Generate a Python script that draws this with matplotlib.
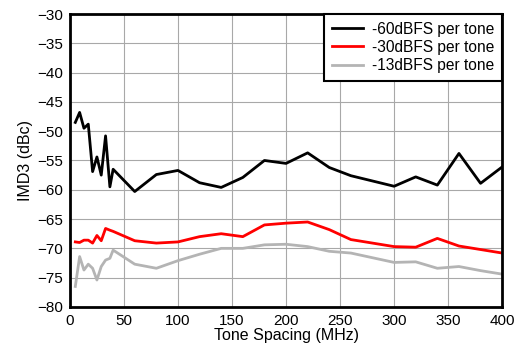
import matplotlib.pyplot as plt

plt.rcParams['font.family'] = ['Liberation Sans', 'DejaVu Sans']

spacing = [5, 9, 13, 17, 21, 25, 29, 33, 37, 40, 60, 80, 100, 120, 140, 160,
           180, 200, 220, 240, 260, 300, 320, 340, 360, 380, 400]
imd_60 = [-48.5, -46.8, -49.5, -48.8, -56.9, -54.4, -57.5, -50.8, -59.5, -56.5,
          -60.3, -57.4, -56.7, -58.8, -59.6, -57.9, -55.0, -55.5, -53.7, -56.2,
          -57.6, -59.4, -57.8, -59.2, -53.8, -58.9, -56.1]
imd_30 = [-68.9, -69.0, -68.6, -68.6, -69.1, -67.8, -68.7, -66.6, -66.9, -67.1,
          -68.7, -69.1, -68.9, -68.0, -67.5, -68.0, -66.0, -65.7, -65.5, -66.8,
          -68.5, -69.7, -69.8, -68.3, -69.6, -70.2, -70.8]
imd_13 = [-76.5, -71.4, -73.7, -72.7, -73.4, -75.4, -73.1, -72.0, -71.7, -70.3,
          -72.7, -73.4, -72.1, -71.0, -70.0, -70.0, -69.4, -69.3, -69.7, -70.5,
          -70.8, -72.4, -72.3, -73.4, -73.1, -73.8, -74.4]
labels = ['-60dBFS per tone', '-30dBFS per tone', '-13dBFS per tone']
colors = ['black', '#ff0000', '#b4b4b4']

fig = plt.figure(figsize=(5.14, 3.5), dpi=100)
ax = fig.add_axes([0.136, 0.123, 0.841, 0.837])

for y, lab, c in zip([imd_60, imd_30, imd_13], labels, colors):
    ax.plot(spacing, y, color=c, lw=2, label=lab)

ax.set_xlim(0, 400)
ax.set_ylim(-80, -30)
ax.set_xticks(range(0, 401, 50))
ax.set_yticks(range(-80, -29, 5))
ax.grid(True, color='#a8a8a8', lw=0.8)
ax.set_axisbelow(True)
ax.tick_params(length=0, labelsize=11, pad=5)
for s in ax.spines.values():
    s.set_linewidth(2)
ax.set_xlabel('Tone Spacing (MHz)', fontsize=11.5, labelpad=0)
ax.set_ylabel('IMD3 (dBc)', fontsize=11.5, labelpad=3)

leg = ax.legend(loc='upper right', fontsize=11.2, fancybox=False, framealpha=1,
                edgecolor='black', borderaxespad=0, handlelength=2.0,
                handletextpad=0.6, labelspacing=0.2, borderpad=0.5)
leg.get_frame().set_linewidth(1.5)

fig.savefig('out.png')
